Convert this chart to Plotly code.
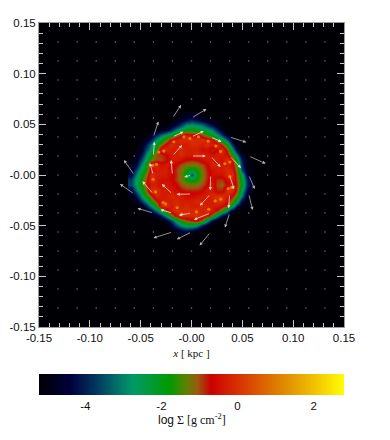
import plotly.graph_objects as go

# kpc coordinates of the surface-density samples
grid_x = [round(-0.06 + 0.005 * i, 3) for i in range(25)]
grid_y = [round(-0.06 + 0.005 * i, 3) for i in range(25)]
B = -5.2
# log surface density, rows listed from top (y=+0.06) to bottom (y=-0.06)
log_sigma_top_down = [
[B]*11+[-4.9,-4.8,-4.9]+[B]*11,
[B]*9+[-4.9,-4.7,-4.3,-4.0,-4.3,-4.6,-4.9]+[B]*9,
[B]*8+[-4.8,-4.4,-3.8,-3.0,-2.8,-3.0,-3.2,-3.8,-4.3,-4.9]+[B]*7,
[B]*6+[-4.9,-4.7,-4.0,-3.1,-2.4,-2.0,-1.9,-2.1,-2.3,-2.6,-3.1,-4.0,-4.8]+[B]*6,
[B]*4+[-4.8,-4.0,-3.3,-2.7,-2.1,-1.4,-0.8,-0.3,-0.6,-0.5,-1.0,-1.5,-2.1,-2.8,-3.8,-4.8]+[B]*5,
[B]*3+[-4.8,-4.0,-2.9,-2.2,-1.4,-0.5,-0.3,0.0,-0.1,0.0,-0.1,0.0,-0.3,-0.5,-1.5,-2.3,-3.4,-4.8]+[B]*4,
[B]*2+[-4.9,-4.1,-3.1,-2.1,-1.2,-0.5,0.0,-0.3,-0.3,-0.3,-0.1,-0.1,-0.3,0.0,-0.3,0.0,-0.8,-1.8,-3.8,-4.9]+[B]*3,
[B]*2+[-4.8,-3.6,-2.7,-1.6,-0.1,-0.1,-0.3,-0.3,-0.1,-0.3,-0.3,-0.3,-0.5,-0.5,-0.9,-0.7,0.0,-0.9,-2.6,-4.5]+[B]*3,
[B,-4.9,-4.3,-3.0,-1.9,-1.0,-0.9,-0.7,-0.3,-0.3,-0.1,-0.3,-0.3,-0.1,-0.3,-0.3,-0.5,-0.3,-0.3,-0.5,-1.5,-3.2,-4.8]+[B]*2,
[B,-4.7,-3.7,-2.5,-1.4,-1.0,-1.0,-0.8,-0.3,-0.3,-0.5,-0.7,-0.8,-0.7,-0.5,-0.3,-0.3,-0.3,-0.5,0.0,-0.5,-2.2,-4.2,-4.9,B],
[-4.9,-4.4,-3.1,-2.0,-0.1,-0.1,-0.5,-0.3,-0.5,-0.7,-1.0,-1.2,-1.25,-1.2,-1.0,-0.7,-0.1,-0.3,-0.3,-0.3,-0.5,-1.6,-3.9,-4.9,B],
[-4.8,-3.7,-2.5,-1.7,-0.5,-0.3,-0.3,-0.3,-0.6,-0.9,-1.2,-1.7,-2.0,-1.7,-1.2,-0.8,-0.5,-0.3,-0.3,-0.1,-0.3,-1.3,-3.7,-4.8,B],
[-4.4,-3.1,-2.1,-1.3,0.0,-0.3,-0.3,-0.3,-0.6,-0.85,-1.25,-2.0,-3.6,-2.0,-1.25,-0.85,-0.5,-0.5,-0.5,-0.1,0.0,-1.1,-2.5,-4.5,B],
[-3.7,-2.7,-1.8,-0.9,0.0,-0.3,-0.5,-0.5,-0.6,-0.9,-1.2,-1.7,-2.0,-1.7,-1.2,-0.8,-0.5,-0.9,-0.9,-0.5,-0.3,-1.0,-2.2,-3.9,-4.9],
[-3.6,-2.7,-1.7,-0.9,-0.3,-0.3,-0.5,-0.3,-0.5,-0.7,-1.0,-1.2,-1.25,-1.2,-1.0,-0.7,-0.3,-1.0,-1.1,-0.7,-0.3,-0.9,-2.0,-3.8,-4.9],
[-4.6,-3.3,-2.3,-1.2,0.0,0.0,-0.3,-0.3,-0.3,-0.5,-0.7,-0.8,-0.8,-0.8,-0.7,-0.3,-0.3,-0.8,-0.8,0.0,0.0,-1.0,-2.6,-4.3,B],
[-4.9,-4.2,-2.9,-1.8,-0.9,-0.1,-0.3,-0.3,-0.1,-0.3,-0.3,-0.5,-0.6,-0.5,-0.3,-0.3,-0.1,0.0,0.0,-0.3,-0.7,-1.4,-3.1,-4.8,B],
[B,-4.9,-3.8,-2.7,-1.7,-0.8,-0.3,-0.3,-0.3,-0.1,-0.3,-0.3,-0.3,-0.1,-0.3,-0.3,-0.3,0.0,0.0,-0.5,-1.2,-2.4,-4.3,-4.9,B],
[B]*2+[-4.9,-4.0,-2.8,-1.7,-0.1,0.0,-0.3,-0.1,-0.3,-0.1,-0.3,-0.3,-0.1,-0.3,-0.3,-0.3,-0.5,-0.9,-2.1,-4.0,-4.9]+[B]*2,
[B]*3+[-4.9,-4.3,-3.3,-2.2,-1.0,-0.3,0.0,-0.1,-0.1,-0.1,0.0,-0.3,0.0,-0.3,-0.8,-1.5,-3.0,-4.7]+[B]*4,
[B]*5+[-4.8,-4.0,-2.8,-1.5,-0.5,0.0,-0.1,-0.1,0.0,-0.1,-0.5,-1.3,-2.8,-4.3,-4.9]+[B]*5,
[B]*7+[-4.7,-3.8,-2.6,-1.7,-1.1,-0.8,-0.7,-1.2,-2.7,-4.4]+[B]*8,
[B]*8+[-4.6,-3.7,-3.0,-2.6,-2.5,-3.0,-4.2,-4.9]+[B]*9,
[B]*9+[-4.9,-4.4,-4.2,-4.5,-4.9]+[B]*11,
[B]*25,
]
log_sigma = log_sigma_top_down[::-1]

# small dense clumps (kpc)
clump_x = [-.0174,-.0075,-.0016,.0069,.0164,.0239,-.0321,-.0272,-.0383,-.0344,-.0377,-.0354,-.0279,-.0256,-.0141,-.0095,.0049,.017,.0233,.0288,.0361,.0393,.0377,.0328,.0377,.0285]
clump_y = [.0328,.0377,.0361,.0377,.0334,.0285,.0226,.0236,.0095,.0105,-.0043,-.0167,-.0272,-.0285,-.0321,-.0387,-.0364,-.0338,-.0256,-.0239,-.0134,-.0125,-.0016,.0111,.0128,.0233]

# velocity arrows: tail node indices (grid spacing node_step) and head offsets
node_step = 0.01875
arrow_i = [-1,0,2,3,3,3,2,1,0,-1,-2,-3,-3,-2,-2,-1,0,1,2,2,2,1,0,-1,-2,-2,-1,0,1,1,1,0,-1,-1,0]
arrow_j = [3,3,2,1,0,-1,-2,-3,-3,-3,-2,-1,0,2,1,2,2,2,1,0,-1,-2,-2,-2,-1,0,1,1,1,0,-1,-1,-1,0,0]
arrow_u = [.0085,.0147,.0164,.0167,.0059,.0039,-.0046,-.0108,-.0144,-.0187,-.0157,-.0141,-.0102,.0049,.001,.0108,.0121,.0108,.0111,.0043,-.001,-.0164,-.0125,-.0118,-.0108,-.0036,.0095,.0141,.0098,-.0003,-.0105,-.0147,-.0105,-.0013,-.0072]
arrow_v = [.0128,.0088,-.0052,-.0075,-.0138,-.0157,-.0144,-.0134,-.0072,-.0059,.0046,.0098,.0147,.0154,.0141,.0052,.0059,-.0046,-.0118,-.0141,-.0141,-.0066,-.0023,.0033,.0125,.0118,.0108,0,-.0108,-.0151,-.0115,-.0003,.0098,.0147,-.002]
outer_arrows = 14

x_ticks = [-0.15,-0.10,-0.05,0,0.05,0.10,0.15]
x_tick_labels = ["-0.15","-0.10","-0.05","-0.00","0.05","0.10","0.15"]
minor_ticks = [round(-0.15 + 0.01 * i, 2) for i in range(31)]
bar_ticks = [-4,-2,0,2]

z_min, z_max = -5.22, 2.8
stops = [(-5.22,"#000004"),(-4.4,"#00003c"),(-3.7,"#003860"),(-3.2,"#006e68"),(-2.75,"#009966"),
         (-2.3,"#009a38"),(-1.78,"#009900"),(-1.35,"#5f8000"),(-1.05,"#9a5a10"),(-0.7,"#cc0000"),
         (0,"#d83000"),(1.2,"#e08800"),(2.0,"#f0c000"),(2.8,"#ffff00")]
colorscale = [[(v - z_min) / (z_max - z_min), c] for v, c in stops]

SERIF = "Liberation Serif"
SANS = "Liberation Sans"

fig = go.Figure()
fig.add_trace(go.Heatmap(
    x=grid_x, y=grid_y, z=log_sigma, zmin=z_min, zmax=z_max, zsmooth="best",
    colorscale=colorscale, hoverinfo="skip",
    colorbar=dict(orientation="h", x=0, xanchor="left", y=-0.155, yanchor="top", len=1, lenmode="fraction",
                  thickness=21, thicknessmode="pixels", outlinewidth=0, ticks="outside", ticklen=2,
                  tickcolor="rgba(0,0,0,0)", tickvals=bar_ticks,
                  ticktext=[str(t) for t in bar_ticks], tickfont=dict(family=SANS, size=11.5, color="#111"),
                  xpad=0, ypad=0),
))

fig.add_trace(go.Scatter(x=clump_x, y=clump_y, mode="markers", opacity=0.8,
    marker=dict(size=3.2, color="#f09000", line=dict(width=0)), hoverinfo="skip", showlegend=False))

nodes = set(zip(arrow_i, arrow_j))
dots = [(i, j) for i in range(-7, 8) for j in range(-7, 8) if (i, j) not in nodes]
fig.add_trace(go.Scatter(
    x=[i * node_step for i, j in dots], y=[j * node_step for i, j in dots], mode="markers",
    marker=dict(size=1.5, color="#7a7a7a", line=dict(width=0)), hoverinfo="skip", showlegend=False))

for k, (i, j, u, v) in enumerate(zip(arrow_i, arrow_j, arrow_u, arrow_v)):
    fig.add_annotation(
        x=i * node_step + u, y=j * node_step + v, ax=i * node_step, ay=j * node_step,
        xref="x", yref="y", axref="x", ayref="y", text="", showarrow=True,
        arrowhead=2, arrowsize=0.8, arrowwidth=0.8,
        arrowcolor="#b4b4b4" if k < outer_arrows else "rgba(255,235,235,0.9)")

axis_common = dict(
    range=[-0.15, 0.15], tickmode="array", tickvals=x_ticks, ticktext=x_tick_labels,
    ticks="inside", ticklen=7, tickwidth=1, tickcolor="#c8c8c8",
    minor=dict(tickmode="array", tickvals=minor_ticks, ticks="inside", ticklen=4, tickwidth=1,
               tickcolor="#c8c8c8", showgrid=False),
    showgrid=False, zeroline=False, showline=True, linecolor="#9a9a9a", linewidth=1, mirror="ticks",
    tickfont=dict(family=SANS, size=11.5, color="#111"),
)
fig.update_xaxes(**axis_common, title=dict(text="<i>x</i> [ kpc ]", standoff=6,
                 font=dict(family=SERIF, size=11, color="#111")))
fig.update_yaxes(**axis_common)
fig.add_annotation(text="<i>y</i> [ kpc ]", xref="paper", yref="paper", x=0, y=0.5, xshift=-40,
                   xanchor="center", yanchor="middle", textangle=-90, showarrow=False,
                   font=dict(family=SERIF, size=11, color="#111"))
fig.add_annotation(text='<span style="font-family:Liberation Sans">log</span> Σ [g cm<sup>-2</sup>]',
                   xref="paper", yref="paper", x=0.5, y=-0.303, xanchor="center", yanchor="middle",
                   showarrow=False, font=dict(family=SERIF, size=12, color="#111"))

fig.update_layout(
    width=390, height=440, margin=dict(l=31, r=54, t=15, b=121, autoexpand=False),
    paper_bgcolor="white", plot_bgcolor="#000004", showlegend=False,
)
fig.write_html("out.html", config=dict(displayModeBar=False))
